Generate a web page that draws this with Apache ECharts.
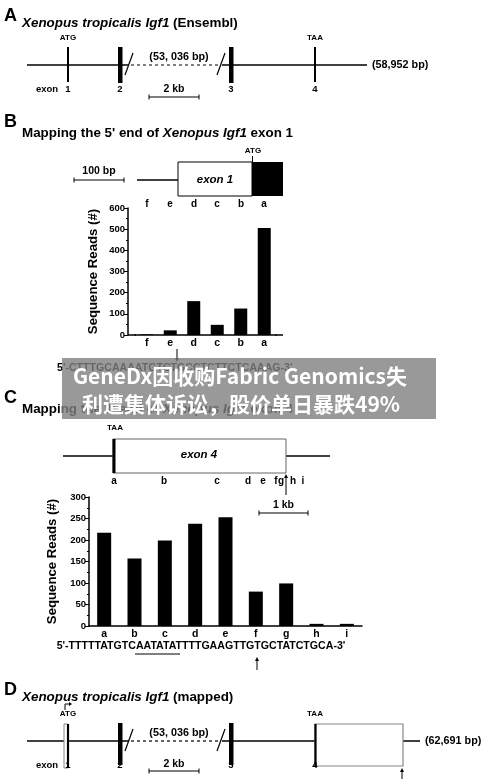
<!DOCTYPE html>
<html>
<head>
<meta charset="utf-8">
<script src="https://cdn.jsdelivr.net/npm/echarts@6/dist/echarts.min.js"></script>
<style>
html,body{margin:0;padding:0;background:#fff;}
#c{width:500px;height:779px;}
</style>
</head>
<body>
<div id="c"></div>
<script>
// ---- data ----
const catsB = ['f', 'e', 'd', 'c', 'b', 'a'];
const readsB = [3, 22, 160, 48, 125, 505];
const catsC = ['a', 'b', 'c', 'd', 'e', 'f', 'g', 'h', 'i'];
const readsC = [217, 157, 199, 238, 253, 80, 99, 5, 5];
const yTicksB = [0, 100, 200, 300, 400, 500, 600];
const yTicksC = [0, 50, 100, 150, 200, 250, 300];
const seqB = "5'-CTTTGCAAAATGTCTGCCTCTTCTCAAAG-3'";
const seqC = "5'-TTTTTATGTCAATATATTTTGAAGTTGTGCTATCTGCA-3'";
const exonNums = ['1', '2', '3', '4'];
const overlayLines = ['GeneDx因收购Fabric Genomics失', '利遭集体诉讼，股价单日暴跌49%'];

const FONT = '"Liberation Sans", Arial, Helvetica, sans-serif';
const CJK = '"Noto Sans CJK SC", "Noto Sans", sans-serif';

function T(x, y, text, size, o) {
  o = o || {};
  const al = o.align || 'center', va = o.va || 'middle';
  return {
    type: 'text', z: o.z || 10,
    style: {
      x: x, y: y, text: text, fill: o.fill || '#000',
      font: (o.italic ? 'italic ' : '') + (o.normal ? '' : 'bold ') + size + 'px ' + (o.family || FONT),
      textAlign: al, textVerticalAlign: va, align: al, verticalAlign: va,
      rich: o.rich
    }
  };
}
function L(x1, y1, x2, y2, w, o) {
  o = o || {};
  return {
    type: 'line', z: o.z || 10,
    shape: { x1: x1, y1: y1, x2: x2, y2: y2 },
    style: { stroke: o.color || '#000', lineWidth: w || 1, lineDash: o.dash || null }
  };
}
function R(x, y, w, h, o) {
  o = o || {};
  return {
    type: 'rect', z: o.z || 10,
    shape: { x: x, y: y, width: w, height: h },
    style: { fill: o.fill || '#000', stroke: o.stroke || null, lineWidth: o.lw || 1 }
  };
}
function P(points, o) {
  o = o || {};
  return { type: 'polygon', z: o.z || 10, shape: { points: points }, style: { fill: o.fill || '#000' } };
}
function arrowUp(x, yTop, yBot) {
  return [L(x, yTop + 3, x, yBot, 1), P([[x - 2, yTop + 4], [x + 2, yTop + 4], [x, yTop]])];
}
function arrowDown(x, yTop, yBot) {
  return [L(x, yTop, x, yBot - 3, 1), P([[x - 2, yBot - 4], [x + 2, yBot - 4], [x, yBot]])];
}
function scaleBar(x1, x2, y, label, ly) {
  return [L(x1, y, x2, y, 1.2), L(x1, y - 2.5, x1, y + 2.5, 1), L(x2, y - 2.5, x2, y + 2.5, 1),
    T((x1 + x2) / 2, ly, label, 10.5)];
}
const TS = 13.4;
const richItal = { i: { fontStyle: 'italic', fontWeight: 'bold', fontSize: TS, fontFamily: FONT } };

// gene model (panels A and D)
function geneModel(dy, mapped) {
  const y = 65 + dy, top = 47 + dy;
  const g = [];
  g.push(L(27, y, 129, y, 1.5));
  g.push(L(131, y, 220, y, 1.2, { dash: [3, 3] }));
  g.push(L(222, y, mapped ? 315 : 367, y, 1.5));
  if (mapped) {
    g.push(L(403, y, 420, y, 1.5));
  }
  g.push(L(125, y + 10, 133, y - 12, 1.2));
  g.push(L(217, y + 10, 225, y - 12, 1.2));
  if (mapped) {
    g.push(R(64, top + 1, 4, 44, { fill: '#fff', stroke: '#888', lw: 1 }));
    g.push(L(68, top + 1, 68, top + 45, 2.2));
  } else {
    g.push(L(68, top, 68, top + 35, 2));
  }
  g.push(R(118, top, 4.5, 36 + (mapped ? 6 : 0)));
  g.push(R(229, top, 4.5, 36 + (mapped ? 6 : 0)));
  if (mapped) {
    g.push(R(315, top + 1, 88, 42, { fill: '#fff', stroke: '#888', lw: 1.2 }));
    g.push(L(315.5, top + 1, 315.5, top + 43, 2.2));
    g.push(...arrowUp(402, 768, 779));
  } else {
    g.push(L(315, top, 315, top + 35, 2));
  }
  g.push(T(68, 38 + dy, 'ATG', 8));
  g.push(T(315, 38 + dy, 'TAA', 8));
  if (mapped) {
    g.push(L(65, 710, 65, 704, 1));
    g.push(L(65, 704, 70, 704, 1));
    g.push(P([[69, 702], [69, 706], [72, 704]]));
  }
  g.push(T(179, 57 + dy, '(53, 036 bp)', 10.8));
  g.push(T(mapped ? 425 : 372, y, mapped ? '(62,691 bp)' : '(58,952 bp)', 10.8, { align: 'left' }));
  const ly = 89.5 + dy;
  g.push(T(47, ly, 'exon', 9.5));
  const xs = [68, 120, 231, 315];
  exonNums.forEach((n, i) => g.push(T(xs[i], ly, n, 9.5)));
  g.push(...scaleBar(149, 199, 97 + dy - (mapped ? 2 : 0), '2 kb', ly - (mapped ? 1 : 0)));
  return g;
}

const graphics = [];
// Panel A
graphics.push(T(4, 16, 'A', 18, { align: 'left' }));
graphics.push(T(22, 23, '{i|Xenopus tropicalis Igf1} (Ensembl)', TS, { align: 'left', rich: richItal }));
graphics.push(...geneModel(0, false));

// Panel B
graphics.push(T(4, 122, 'B', 18, { align: 'left' }));
graphics.push(T(22, 133, "Mapping the 5' end of {i|Xenopus Igf1} exon 1", TS, { align: 'left', rich: richItal }));
graphics.push(L(137, 180, 178, 180, 1.5));
graphics.push(R(178, 162, 74, 34, { fill: '#fff', stroke: '#000', lw: 1 }));
graphics.push(R(252, 162, 31, 34));
graphics.push(L(252.5, 156, 252.5, 162, 1));
graphics.push(T(253, 151, 'ATG', 8));
graphics.push(T(215, 180, 'exon 1', 11.5, { italic: true }));
graphics.push(...scaleBar(74, 124, 180, '100 bp', 171));
const topXB = [147, 170, 194, 217, 241, 264];
catsB.forEach((c, i) => graphics.push(T(topXB[i], 204, c, 10)));
graphics.push(L(128, 335, 136, 335, 1.5));
graphics.push(L(275, 335, 283, 335, 1.5));
graphics.push(...arrowDown(177, 349, 362));
graphics.push(T(57, 368, seqB, 10.6, { align: 'left' }));

// Panel C
graphics.push(T(4, 398, 'C', 18, { align: 'left' }));
graphics.push(T(22, 409, "Mapping the 3' end of {i|Xenopus Igf1} exon 4", TS, { align: 'left', rich: richItal }));
graphics.push(L(63, 456, 113, 456, 1.5));
graphics.push(L(286, 456, 330, 456, 1.5));
graphics.push(R(113, 439, 173, 34, { fill: '#fff', stroke: '#666', lw: 1 }));
graphics.push(R(112.5, 439, 3, 34));
graphics.push(T(115, 428, 'TAA', 8));
graphics.push(T(199, 455, 'exon 4', 11.5, { italic: true }));
const topXC = [114, 164, 217, 248, 263, 276, 281, 293, 303];
catsC.forEach((c, i) => graphics.push(T(topXC[i], 481, c, 10)));
graphics.push(...arrowUp(286, 474, 495));
graphics.push(...scaleBar(259, 308, 513, '1 kb', 505));
graphics.push(T(201, 646, seqC, 10.6));
graphics.push(L(135, 654, 180, 654, 1));
graphics.push(...arrowUp(257, 657, 670));

// Panel D
graphics.push(T(4, 690, 'D', 18, { align: 'left' }));
graphics.push(T(22, 697, '{i|Xenopus tropicalis Igf1} (mapped)', TS, { align: 'left', rich: richItal }));
graphics.push(...geneModel(676, true));

// overlay banner
graphics.push(R(62, 358, 374, 61, { fill: 'rgba(128,128,128,0.8)', z: 100 }));
graphics.push(T(240, 376, overlayLines[0], 21, { family: CJK, fill: '#fff', z: 101 }));
graphics.push(T(241, 404, overlayLines[1], 21, { family: CJK, fill: '#fff', z: 101 }));

const axisCommon = {
  axisLine: { show: true, lineStyle: { color: '#000', width: 1.5 } },
  splitLine: { show: false },
};
const yAxisBase = (ticks, off, gap) => Object.assign({}, axisCommon, {
  type: 'value', min: ticks[0], max: ticks[ticks.length - 1], interval: ticks[1] - ticks[0],
  offset: off,
  name: 'Sequence Reads (#)', nameLocation: 'middle', nameGap: gap,
  nameTextStyle: { color: '#000', fontWeight: 'bold', fontSize: 13.2, fontFamily: FONT },
  axisTick: { show: true, length: 4, lineStyle: { color: '#000', width: 1 } },
  minorTick: { show: true, splitNumber: 2, length: 2, lineStyle: { color: '#000', width: 1 } },
  axisLabel: { color: '#000', fontWeight: 'bold', fontSize: 9.5, fontFamily: FONT, margin: 3 }
});
const xAxisBase = (cats, gi) => Object.assign({}, axisCommon, {
  type: 'category', data: cats, gridIndex: gi,
  axisTick: { show: false },
  axisLabel: { color: '#000', fontWeight: 'bold', fontSize: 10.5, fontFamily: FONT, margin: 3 }
});

const chart = echarts.init(document.getElementById('c'), null, { renderer: 'canvas' });
chart.setOption({
  animation: false,
  backgroundColor: '#fff',
  grid: [
    { left: 135, top: 208, width: 141, height: 127 },
    { left: 89, top: 497, width: 273, height: 129 }
  ],
  xAxis: [xAxisBase(catsB, 0), xAxisBase(catsC, 1)],
  yAxis: [
    Object.assign(yAxisBase(yTicksB, 7, 28), { gridIndex: 0 }),
    Object.assign(yAxisBase(yTicksC, 0, 26), { gridIndex: 1 })
  ],
  series: [
    { type: 'bar', xAxisIndex: 0, yAxisIndex: 0, data: readsB, barWidth: 13, itemStyle: { color: '#000' } },
    { type: 'bar', xAxisIndex: 1, yAxisIndex: 1, data: readsC, barWidth: 14, itemStyle: { color: '#000' } }
  ],
  graphic: { elements: graphics }
});
</script>
</body>
</html>
